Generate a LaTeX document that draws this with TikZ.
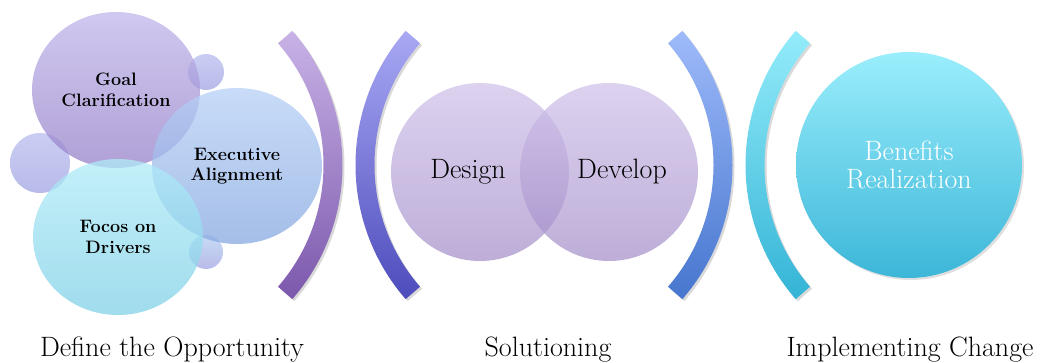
\documentclass[tikz,border=0pt]{standalone}
\usepackage{fontspec}
\usepackage{tikz}
\usetikzlibrary{shapes.geometric}
\usetikzlibrary{shadows}

\definecolor{goaltop}{HTML}{C0B6EB}
\definecolor{goalbot}{HTML}{9680C8}
\definecolor{exectop}{HTML}{B6D0F6}
\definecolor{execbot}{HTML}{86A8E0}
\definecolor{focotop}{HTML}{B0EBF8}
\definecolor{focobot}{HTML}{80D0E6}
\definecolor{dottop}{HTML}{B8BCEE}
\definecolor{dotbot}{HTML}{A0A4E2}
\definecolor{phasetop}{HTML}{CEBFE9}
\definecolor{phasebot}{HTML}{A18BC7}
\definecolor{benetop}{HTML}{9AEEFC}
\definecolor{benebot}{HTML}{3CB6D8}
\definecolor{brAtop}{HTML}{C8B2E6}
\definecolor{brAbot}{HTML}{7C58AC}
\definecolor{brBtop}{HTML}{A8A8F4}
\definecolor{brBbot}{HTML}{4E4CBC}
\definecolor{brCtop}{HTML}{9EBAFA}
\definecolor{brCbot}{HTML}{4676CE}
\definecolor{brDtop}{HTML}{94ECFA}
\definecolor{brDbot}{HTML}{34B4D6}

\begin{document}
\begin{tikzpicture}[x=1pt,y=1pt,thick]
  \tikzset{bubble/.style={ellipse,inner sep=0pt,minimum width=170pt,minimum height=156pt,
      fill opacity=0.75,text opacity=1,align=center,font=\fontsize{18}{20.5}\selectfont\bfseries}}
  \tikzset{dot/.style={circle,inner sep=0pt,fill opacity=0.75,top color=dottop,bottom color=dotbot}}
  \tikzset{phase/.style={circle,inner sep=0pt,minimum size=178pt,fill opacity=0.7,
      top color=phasetop,bottom color=phasebot}}
  \tikzset{phasetext/.style={font=\fontsize{28}{30}\selectfont}}
  \tikzset{caption/.style={font=\fontsize{28}{30}\selectfont,anchor=base}}
  \tikzset{bracket/.style={drop shadow={opacity=0.3,shadow xshift=2pt,shadow yshift=-2pt}}}

  \useasboundingbox (0,0) rectangle (1040,363);

  % left cluster
  \node[dot,minimum size=60pt] (dotl) at (40,200) {};
  \node[dot,minimum size=36pt] (dott) at (206,291) {};
  \node[dot,minimum size=34pt,top color=dottop!60!focotop] (dotb) at (206,111) {};
  \node[bubble,minimum width=168pt,top color=goaltop,bottom color=goalbot] (goal) at (116,273) {Goal\\Clarification};
  \node[bubble,top color=exectop,bottom color=execbot] (exec) at (237,197) {Executive\\Alignment};
  \node[bubble,top color=focotop,bottom color=focobot] (focos) at (118,126) {Focos on\\Drivers};

  % brackets
  \shade[bracket,top color=brAtop,bottom color=brAbot]
    (138,198) ++(-41:204.5pt) arc[start angle=-41,end angle=41,radius=204.5pt]
    -- ++(221:19pt) arc[start angle=41,end angle=-41,radius=185.5pt] -- cycle;
  \shade[bracket,top color=brBtop,bottom color=brBbot]
    (560,198) ++(221:204.5pt) arc[start angle=221,end angle=139,radius=204.5pt]
    -- ++(-41:19pt) arc[start angle=139,end angle=221,radius=185.5pt] -- cycle;
  \shade[bracket,top color=brCtop,bottom color=brCbot]
    (528,198) ++(-41:204.5pt) arc[start angle=-41,end angle=41,radius=204.5pt]
    -- ++(221:19pt) arc[start angle=41,end angle=-41,radius=185.5pt] -- cycle;
  \shade[bracket,top color=brDtop,bottom color=brDbot]
    (950,198) ++(221:204.5pt) arc[start angle=221,end angle=139,radius=204.5pt]
    -- ++(-41:19pt) arc[start angle=139,end angle=221,radius=185.5pt] -- cycle;

  % solutioning
  \node[phase] (design) at (480,191) {};
  \node[phase] (develop) at (609,191) {};
  \node[phasetext] (designtxt) at (468,191) {Design};
  \node[phasetext] (developtxt) at (622,191) {Develop};

  % benefits
  \node[circle,inner sep=0pt,minimum size=226pt,top color=benetop,bottom color=benebot,
        drop shadow={opacity=0.25,shadow xshift=2pt,shadow yshift=-2pt},
        align=center,text=white,font=\fontsize{28}{28}\selectfont] (benefits) at (909,198) {Benefits\\Realization};

  % captions
  \node[caption] (opp) at (172,6) {Define the Opportunity};
  \node[caption] (sol) at (548,6) {Solutioning};
  \node[caption] (impl) at (910,6) {Implementing Change};
\end{tikzpicture}
\end{document}
